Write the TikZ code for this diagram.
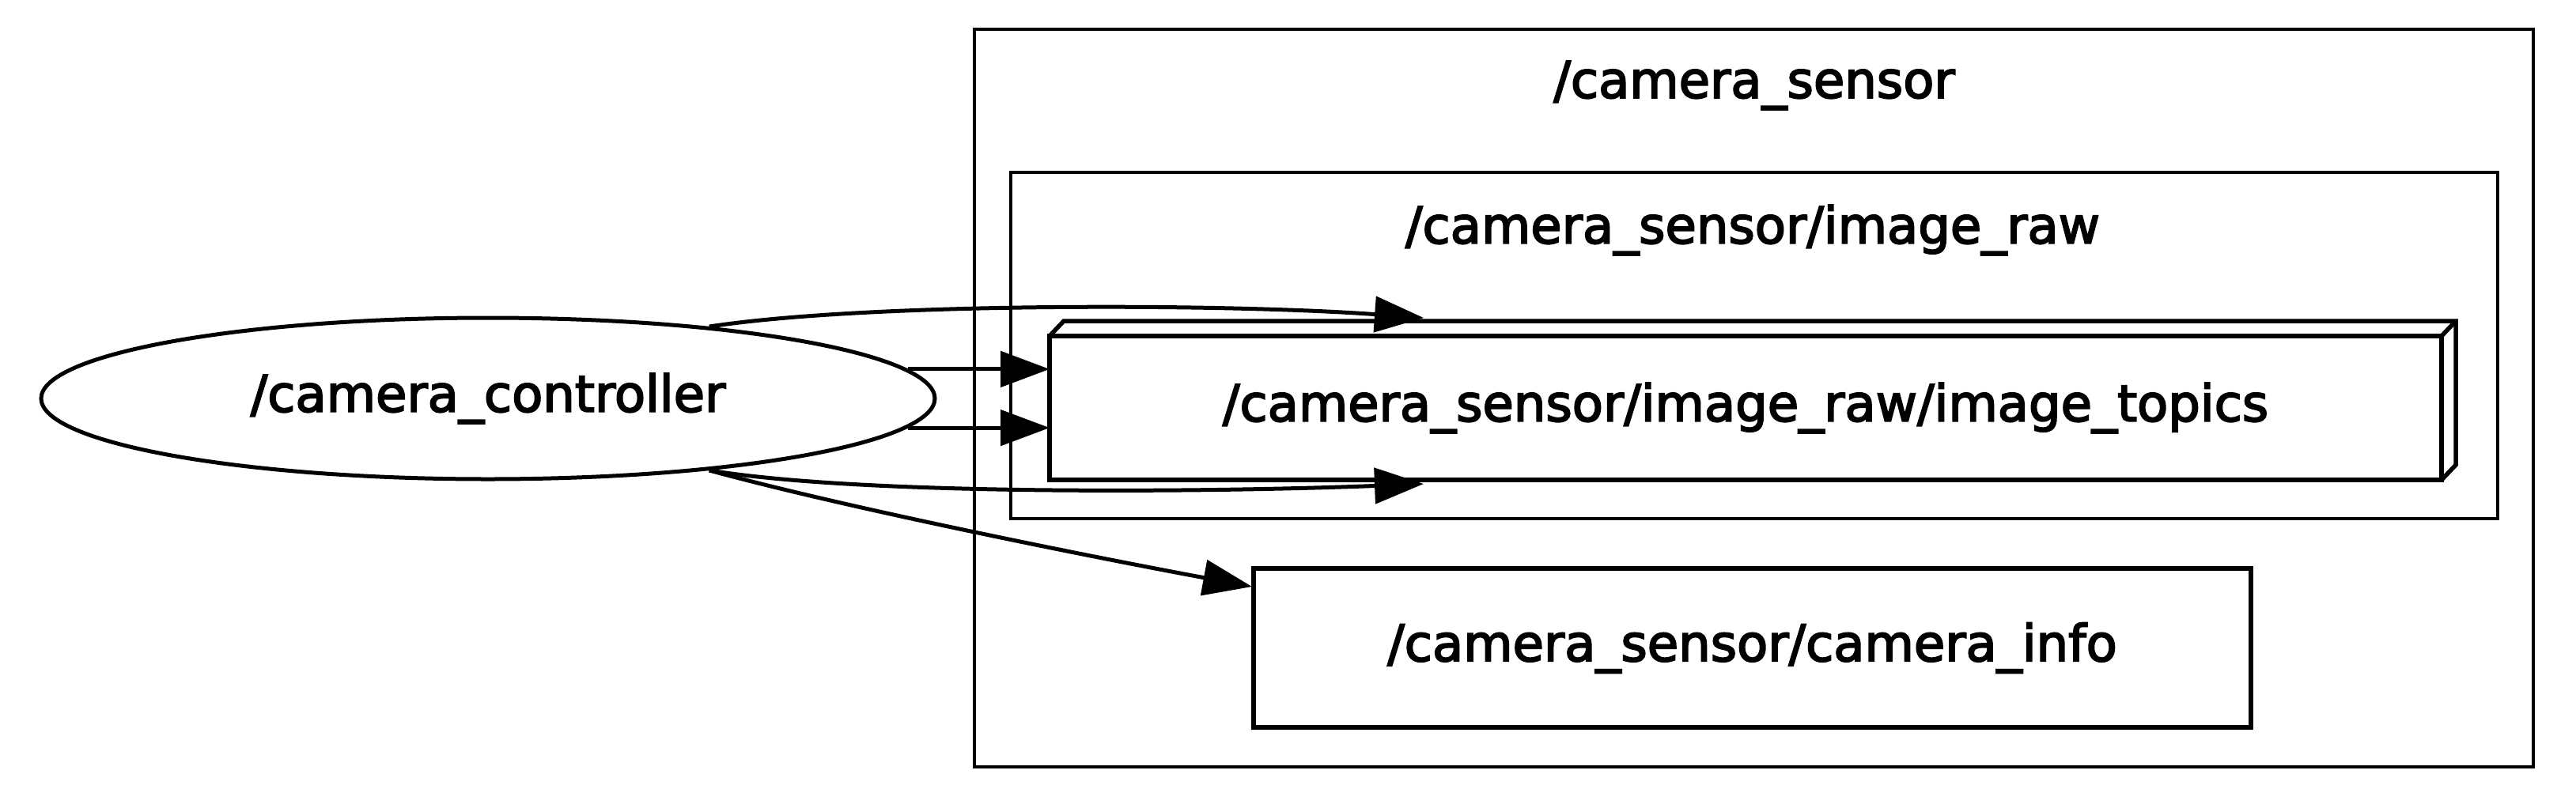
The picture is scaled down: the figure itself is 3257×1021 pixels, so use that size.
\documentclass[tikz,border=0pt]{standalone}
\usepackage{fontspec}
\setmainfont[FakeBold=3]{DejaVu Sans}
\usetikzlibrary{arrows.meta,calc,shapes.geometric}
\begin{document}
\begin{tikzpicture}[x=1pt,y=-1pt,
  bigfont/.style={font=\fontsize{64}{77}\selectfont},
  lbl/.style={bigfont, inner sep=0pt},
  cluster/.style={draw, line width=4.5pt, rectangle, inner sep=0pt, outer sep=0pt},
  nodebox/.style={draw, line width=5.5pt, rectangle, inner sep=0pt, outer sep=0pt, bigfont},
  edge/.style={line width=5pt, -{Triangle[length=62pt,width=45pt]}},
]
\path[use as bounding box, fill=white] (0,0) rectangle (3257,1021);
% clusters
\node[cluster, minimum width=1971pt, minimum height=933pt] (outer) at (2217.5,503.5) {};
\node[lbl] (lcs) at (2218,108) {/camera\_sensor};
\node[cluster, minimum width=1880pt, minimum height=438pt] (inner) at (2218,437) {};
\node[lbl] (lir) at (2216,291) {/camera\_sensor/image\_raw};
% nodes
\node[draw, ellipse, line width=5pt, inner sep=0pt, minimum width=1130pt, minimum height=204pt, bigfont] (cc) at (617,504) {/camera\_controller};
\node[nodebox, minimum width=1760pt, minimum height=182pt] (topics) at (2207,516) {/camera\_sensor/image\_raw/image\_topics};
\draw[line width=5.5pt, line join=miter] (topics.north west) -- ++(18,-19) -| ($(topics.south east)+(18,-19)$) -- (topics.south east);
\draw[line width=5.5pt] (topics.north east) -- ++(18,-19);
\node[nodebox, minimum width=1261pt, minimum height=201pt] (ci) at (2215.5,819.5) {/camera\_sensor/camera\_info};
% edges
\draw[edge] (cc.18) .. controls (1100,382) and (1550,384) .. ($(topics.north west)+(473,-23)$);
\draw[edge] (cc.4) -- (cc.4 -| topics.west);
\draw[edge] (cc.-4) -- (cc.-4 -| topics.west);
\draw[edge] (cc.-18) .. controls (1100,628) and (1550,622) .. ($(topics.south west)+(473,5)$);
\draw[edge] (cc.-18) .. controls (1080,645) and (1400,708) .. ($(ci.north west)+(-2,23)$);
\end{tikzpicture}
\end{document}
